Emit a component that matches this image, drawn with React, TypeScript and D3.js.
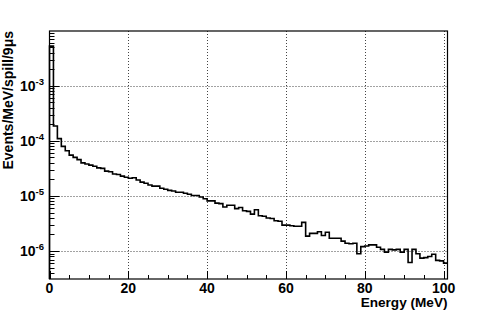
import React from "react";
import * as d3 from "d3";

// Histogram: 1 MeV bins from 0 to 101 MeV
const binEdgesStart = 0;
const binWidth = 1;
const counts: number[] = [
  5.25e-3, 1.86e-4, 1.10e-4, 7.94e-5, 6.61e-5, 5.50e-5, 5.01e-5, 4.57e-5, 3.98e-5, 3.80e-5,
  3.63e-5, 3.47e-5, 3.24e-5, 3.16e-5, 2.82e-5, 2.75e-5, 2.51e-5, 2.45e-5, 2.29e-5, 2.19e-5,
  2.09e-5, 2.14e-5, 1.95e-5, 1.78e-5, 1.70e-5, 1.58e-5, 1.51e-5, 1.51e-5, 1.38e-5, 1.32e-5,
  1.26e-5, 1.23e-5, 1.17e-5, 1.17e-5, 1.12e-5, 1.07e-5, 1.02e-5, 1.02e-5, 9.55e-6, 8.91e-6,
  8.13e-6, 8.13e-6, 7.41e-6, 7.24e-6, 6.31e-6, 6.76e-6, 6.76e-6, 5.89e-6, 6.17e-6, 5.37e-6,
  5.25e-6, 4.68e-6, 5.62e-6, 4.37e-6, 4.27e-6, 3.98e-6, 3.89e-6, 3.55e-6, 3.47e-6, 2.95e-6,
  2.95e-6, 2.88e-6, 2.82e-6, 2.82e-6, 3.31e-6, 1.86e-6, 2.09e-6, 2.09e-6, 2.24e-6, 1.91e-6,
  2.19e-6, 1.70e-6, 1.70e-6, 1.70e-6, 1.51e-6, 1.38e-6, 1.35e-6, 1.38e-6, 8.91e-7, 1.20e-6,
  1.23e-6, 1.29e-6, 1.29e-6, 1.17e-6, 1.07e-6, 9.55e-7, 1.07e-6, 1.05e-6, 1.07e-6, 9.55e-7,
  1.07e-6, 6.17e-7, 1.07e-6, 8.91e-7, 7.41e-7, 7.59e-7, 7.94e-7, 8.71e-7, 6.76e-7, 6.61e-7,
  6.03e-7,
];

const xDomain: [number, number] = [0, 101];
const yDomain: [number, number] = [3.1e-7, 9.9e-3];
const xMajorTicks = [0, 20, 40, 60, 80, 100];
const yMajorExponents = [-3, -4, -5, -6];
const xTitle = "Energy (MeV)";
const yTitle = "Events/MeV/spill/9\u03bcs";

const W = 498;
const H = 311;
const L = 49.5;
const R = 447.5;
const T = 31;
const B = 279;

export default function App() {
  const x = d3.scaleLinear().domain(xDomain).range([L, R]);
  const y = d3.scaleLog().domain(yDomain).range([B, T]);

  // step path
  let path = `M${x(binEdgesStart)},${B}`;
  counts.forEach((v, i) => {
    const x0 = x(binEdgesStart + i * binWidth);
    const x1 = x(binEdgesStart + (i + 1) * binWidth);
    path += `L${x0},${y(v)}L${x1},${y(v)}`;
  });

  const xMinor: number[] = [];
  for (let v = 0; v <= xDomain[1]; v += 5) if (v % 20 !== 0) xMinor.push(v);

  const yMinor: number[] = [];
  for (let e = -7; e <= -3; e++) {
    for (let m = 2; m <= 9; m++) {
      const v = m * Math.pow(10, e);
      if (v >= yDomain[0] && v <= yDomain[1]) yMinor.push(v);
    }
  }

  const font = "'Liberation Sans', Arial, Helvetica, sans-serif";

  return (
    <svg
      width={W}
      height={H}
      style={{ position: "absolute", left: 0, top: 0, background: "#fff" }}
      fontFamily={font}
    >
      <rect x={0} y={0} width={W} height={H} fill="#fff" />
      {/* grid */}
      <g stroke="#444" strokeWidth={1} strokeDasharray="1,2">
        {xMajorTicks
          .filter((t) => t > 0)
          .map((t) => (
            <line key={"gx" + t} x1={Math.round(x(t)) + 0.5} x2={Math.round(x(t)) + 0.5} y1={T} y2={B} />
          ))}
        {yMajorExponents.map((e) => {
          const yy = Math.round(y(Math.pow(10, e))) + 0.5;
          return <line key={"gy" + e} x1={L} x2={R} y1={yy} y2={yy} />;
        })}
      </g>
      {/* ticks */}
      <g stroke="#000" strokeWidth={1}>
        {xMajorTicks.map((t) => (
          <line key={"xt" + t} x1={Math.round(x(t)) + 0.5} x2={Math.round(x(t)) + 0.5} y1={B} y2={B - 8} />
        ))}
        {xMinor.map((t) => (
          <line key={"xm" + t} x1={Math.round(x(t)) + 0.5} x2={Math.round(x(t)) + 0.5} y1={B} y2={B - 4} />
        ))}
        {yMajorExponents.map((e) => {
          const yy = Math.round(y(Math.pow(10, e))) + 0.5;
          return <line key={"yt" + e} x1={L} x2={L + 10} y1={yy} y2={yy} />;
        })}
        {yMinor.map((v, i) => {
          const yy = Math.round(y(v)) + 0.5;
          return <line key={"ym" + i} x1={L} x2={L + 5} y1={yy} y2={yy} />;
        })}
      </g>
      {/* histogram */}
      <path d={path} fill="none" stroke="#000" strokeWidth={1.6} strokeLinejoin="miter" />
      {/* frame */}
      <rect x={L} y={T} width={R - L} height={B - T} fill="none" stroke="#000" strokeWidth={1.2} />
      {/* x tick labels */}
      <g fontSize={14} fontWeight="bold" textAnchor="middle" fill="#000">
        {xMajorTicks.map((t) => (
          <text key={"xl" + t} x={x(t)} y={293}>
            {t}
          </text>
        ))}
      </g>
      {/* y tick labels */}
      <g fontWeight="bold" fill="#000">
        {yMajorExponents.map((e) => {
          const yy = y(Math.pow(10, e));
          return (
            <text key={"yl" + e} x={44} y={yy + 5} textAnchor="end" fontSize={14}>
              10
              <tspan fontSize={9.5} dy={-6}>
                {String(e)}
              </tspan>
            </text>
          );
        })}
      </g>
      {/* axis titles */}
      <text x={R} y={307} textAnchor="end" fontSize={13.6} fontWeight="bold">
        {xTitle}
      </text>
      <text
        transform={`translate(13,${T}) rotate(-90)`}
        textAnchor="end"
        fontSize={14}
        fontWeight="bold"
      >
        {yTitle}
      </text>
    </svg>
  );
}
